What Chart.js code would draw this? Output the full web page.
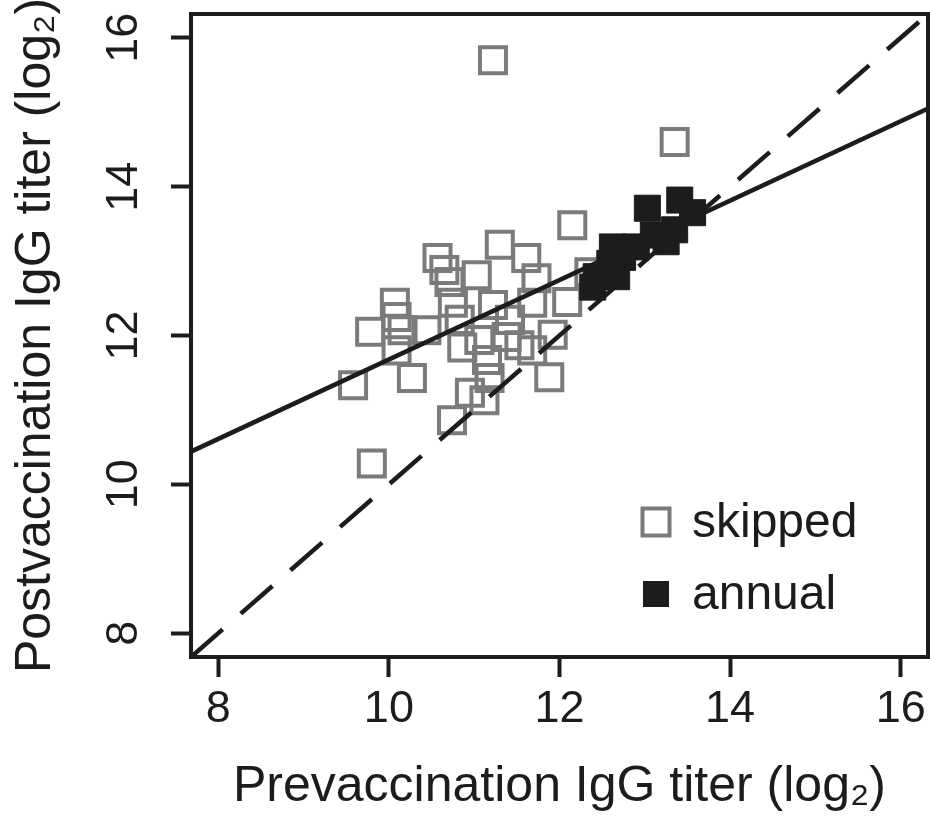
<!DOCTYPE html>
<html>
<head>
<meta charset="utf-8">
<script src="https://cdn.jsdelivr.net/npm/chart.js@4.4.1/dist/chart.umd.min.js"></script>
<style>
  html, body { margin: 0; padding: 0; background: #ffffff; }
  #wrap { width: 930px; height: 821px; position: relative; }
</style>
</head>
<body>
<div id="wrap"><canvas id="c" width="930" height="821"></canvas></div>
<script>
// ---- data ----
const xTicks = [8, 10, 12, 14, 16];
const yTicks = [8, 10, 12, 14, 16];

const skippedX = [11.22, 13.35, 12.15, 11.30, 10.57, 10.65, 10.71, 11.03, 11.61, 11.73, 12.35,
                  10.07, 10.09, 10.75, 11.22, 11.68, 12.09, 9.78, 10.16, 10.44, 10.86, 11.06,
                  11.38, 11.53, 11.92, 11.68, 10.09, 9.58, 10.27, 11.15, 11.18, 10.95, 11.12,
                  11.88, 10.74, 9.80, 10.83, 11.42];
const skippedY = [15.70, 14.60, 13.48, 13.22, 13.04, 12.88, 12.72, 12.81, 13.04, 12.77, 12.85,
                  12.44, 12.25, 12.44, 12.41, 12.44, 12.45, 12.05, 12.07, 12.07, 11.84, 11.94,
                  11.98, 11.87, 12.01, 11.80, 11.80, 11.33, 11.43, 11.67, 11.43, 11.23, 11.13,
                  11.44, 10.86, 10.28, 12.21, 12.21];

const annualX = [13.03, 13.41, 13.56, 13.35, 13.25, 12.90, 12.74, 12.62, 12.59, 12.43, 12.39, 12.67, 13.10];
const annualY = [13.71, 13.82, 13.65, 13.42, 13.26, 13.19, 13.05, 13.19, 12.97, 12.79, 12.65, 12.79, 13.35];

// fitted regression line (solid) and identity line (dashed), end points at the axis limits
const fitX = [7.68, 16.32];
const fitY = [10.44, 15.05];
const idX = [7.68, 16.32];
const idY = [7.68, 16.32];

const axisMin = 7.68, axisMax = 16.32;
const legendLabels = ['skipped', 'annual'];
const xTitle = 'Prevaccination IgG titer (log\u2082)';
const yTitle = 'Postvaccination IgG titer (log\u2082)';

// ---- styling ----
const INK = '#1c1c1c';
const GREY = '#7b7b7b';
const FONT = "'Liberation Sans', Arial, Helvetica, sans-serif";
const LW = 4;

const pts = (xs, ys) => xs.map((x, i) => ({ x: x, y: ys[i] }));
const noPad = s => { s.paddingLeft = 0; s.paddingRight = 0; s.paddingTop = 0; s.paddingBottom = 0; };

const boxLegend = {
  id: 'boxLegend',
  afterDatasetsDraw(chart) {
    const { ctx, chartArea: a } = chart;
    ctx.save();
    ctx.lineWidth = LW;
    ctx.strokeStyle = INK;
    ctx.strokeRect(a.left, a.top, a.right - a.left, a.bottom - a.top);

    // legend inside the plot, bottom right
    const mx = a.left + 465, textX = a.left + 501;
    let cy = a.bottom - 135;
    ctx.font = '48px ' + FONT;
    ctx.textBaseline = 'middle';
    ctx.textAlign = 'left';
    legendLabels.forEach(lbl => {
      const ds = chart.data.datasets.find(d => d.label === lbl);
      if (ds.filled) {
        ctx.fillStyle = ds.backgroundColor;
        ctx.fillRect(mx - 13, cy - 13, 26, 26);
      } else {
        ctx.lineWidth = 4;
        ctx.strokeStyle = ds.borderColor;
        ctx.strokeRect(mx - 13.5, cy - 13.5, 27, 27);
      }
      ctx.fillStyle = INK;
      ctx.fillText(lbl, textX, cy + 2);
      cy += 72;
    });
    ctx.restore();
  }
};

new Chart(document.getElementById('c'), {
  type: 'scatter',
  data: {
    datasets: [
      { label: 'fit', data: pts(fitX, fitY), showLine: true, borderColor: INK, borderWidth: 4.5,
        pointRadius: 0, fill: false },
      { label: 'identity', data: pts(idX, idY), showLine: true, borderColor: INK, borderWidth: 4.5,
        borderDash: [42, 24], pointRadius: 0, fill: false },
      { label: 'annual', filled: true, data: pts(annualX, annualY), pointStyle: 'rect', pointRadius: 18.4,
        backgroundColor: INK, borderColor: INK, borderWidth: 1 },
      { label: 'skipped', filled: false, data: pts(skippedX, skippedY), pointStyle: 'rect', pointRadius: 18.4,
        backgroundColor: 'rgba(0,0,0,0)', borderColor: GREY, borderWidth: 4 }
    ]
  },
  options: {
    responsive: false,
    animation: false,
    events: [],
    layout: { autoPadding: false, padding: { left: 0, top: 14, right: 2, bottom: 0 } },
    plugins: { legend: { display: false }, tooltip: { enabled: false } },
    scales: {
      x: {
        type: 'linear', position: 'bottom', min: axisMin, max: axisMax,
        afterBuildTicks: s => { s.ticks = xTicks.map(v => ({ value: v })); },
        afterFit: s => { s.height = 164; noPad(s); },
        grid: { drawOnChartArea: false, drawTicks: true, tickLength: 20, tickWidth: LW, tickColor: INK },
        border: { display: true, width: LW, color: INK },
        ticks: { color: INK, font: { family: FONT, size: 45 }, padding: 6, maxRotation: 0, autoSkip: false },
        title: { display: true, text: xTitle, color: INK, font: { family: FONT, size: 50 },
                 padding: { top: 0, bottom: 4 } }
      },
      y: {
        type: 'linear', position: 'left', min: axisMin, max: axisMax,
        afterBuildTicks: s => { s.ticks = yTicks.map(v => ({ value: v })); },
        afterFit: s => { s.width = 191; noPad(s); },
        grid: { drawOnChartArea: false, drawTicks: true, tickLength: 20, tickWidth: LW, tickColor: INK },
        border: { display: true, width: LW, color: INK },
        ticks: { color: INK, font: { family: FONT, size: 45 }, padding: 21, minRotation: 90, maxRotation: 90,
                 crossAlign: 'center', autoSkip: false },
        title: { display: true, text: yTitle, color: INK, font: { family: FONT, size: 50 },
                 padding: { top: 6, bottom: 0 } }
      }
    }
  },
  plugins: [boxLegend]
});
</script>
</body>
</html>
